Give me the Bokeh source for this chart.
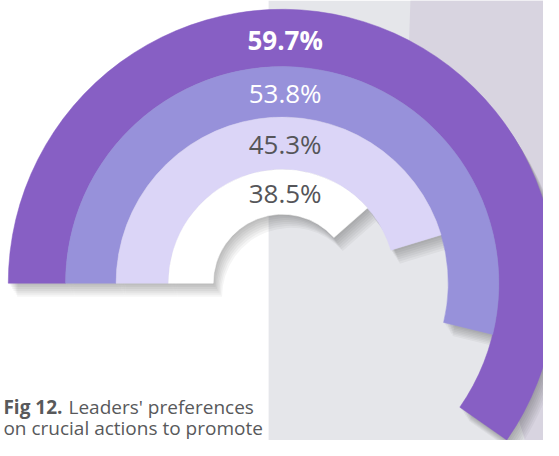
import math
from bokeh.plotting import figure
from bokeh.models import Range1d, ColumnDataSource
from bokeh.core.properties import value
from bokeh.embed import file_html
from bokeh.resources import INLINE

# ---- data ----
values = [59.7, 53.8, 45.3, 38.5]
labels = ["59.7%", "53.8%", "45.3%", "38.5%"]
ring_colors = ["#875fc4", "#9791da", "#dbd5f7", "#ffffff"]
label_colors = ["#ffffff", "#ffffff", "#555559", "#555559"]
label_weights = ["bold", "normal", "normal", "normal"]
caption_bold = "Fig 12."
caption_line1 = "Leaders' preferences"
caption_line2 = "on crucial actions to promote"

# ---- layout (reference pixel space, y up) ----
W, H = 559, 456
cx, cy = 290, H - 293
outer_r = [282, 223, 171, 117]
inner_r = [223, 171, 117, 71]

p = figure(width=543, height=440, x_range=Range1d(0, W), y_range=Range1d(0, H),
           output_backend="svg", toolbar_location=None, min_border=0,
           x_axis_location=None, y_axis_location=None)
p.grid.visible = False
p.outline_line_color = None
p.background_fill_color = "#ffffff"
p.border_fill_color = "#ffffff"

# background panels
p.patch([276, W, W, 276], [0, 0, H, H], fill_color="#e5e6ea", line_color=None)
p.patch([422, W, W, 540, 420], [H, H, 0, 0, H - 60], fill_color="#d8d4e0", line_color=None)

start = [math.pi] * len(values)
ends = [math.pi - v / 100.0 * 2 * math.pi for v in values]

# soft drop shadow
for k in range(1, 8):
    src = ColumnDataSource(dict(x=[cx + 1.3 * k] * 4, y=[cy - 2.0 * k] * 4,
                                ir=inner_r, orr=outer_r, s=start, e=ends))
    p.annular_wedge(x="x", y="y", inner_radius="ir", outer_radius="orr",
                    start_angle="s", end_angle="e", direction="clock", source=src,
                    fill_color="black", fill_alpha=0.04, line_color=None)

src = ColumnDataSource(dict(x=[cx] * 4, y=[cy] * 4, ir=inner_r, orr=outer_r,
                            s=start, e=ends, c=ring_colors))
p.annular_wedge(x="x", y="y", inner_radius="ir", outer_radius="orr",
                start_angle="s", end_angle="e", direction="clock", source=src,
                fill_color="c", line_color="c", line_width=0.5)

mids = [(a + b) / 2 for a, b in zip(inner_r, outer_r)]
for lab, col, wt, m in zip(labels, label_colors, label_weights, mids):
    p.text(x=[cx + 3], y=[cy + m], text=[lab], text_align="center", text_baseline="middle",
           text_font=value("Open Sans"), text_font_size="26px", text_color=col,
           text_font_style=wt)

# caption
p.text(x=[3], y=[H - 421], text=[caption_bold], text_font=value("Open Sans"),
       text_font_size="19px", text_font_style="bold", text_color="#58595b",
       text_baseline="alphabetic")
p.text(x=[70], y=[H - 421], text=[caption_line1], text_font=value("Open Sans"),
       text_font_size="19px", text_color="#58595b", text_baseline="alphabetic")
p.text(x=[3], y=[H - 443], text=[caption_line2], text_font=value("Open Sans"),
       text_font_size="19px", text_color="#58595b", text_baseline="alphabetic")

open("out.html", "w").write(file_html(p, INLINE))
